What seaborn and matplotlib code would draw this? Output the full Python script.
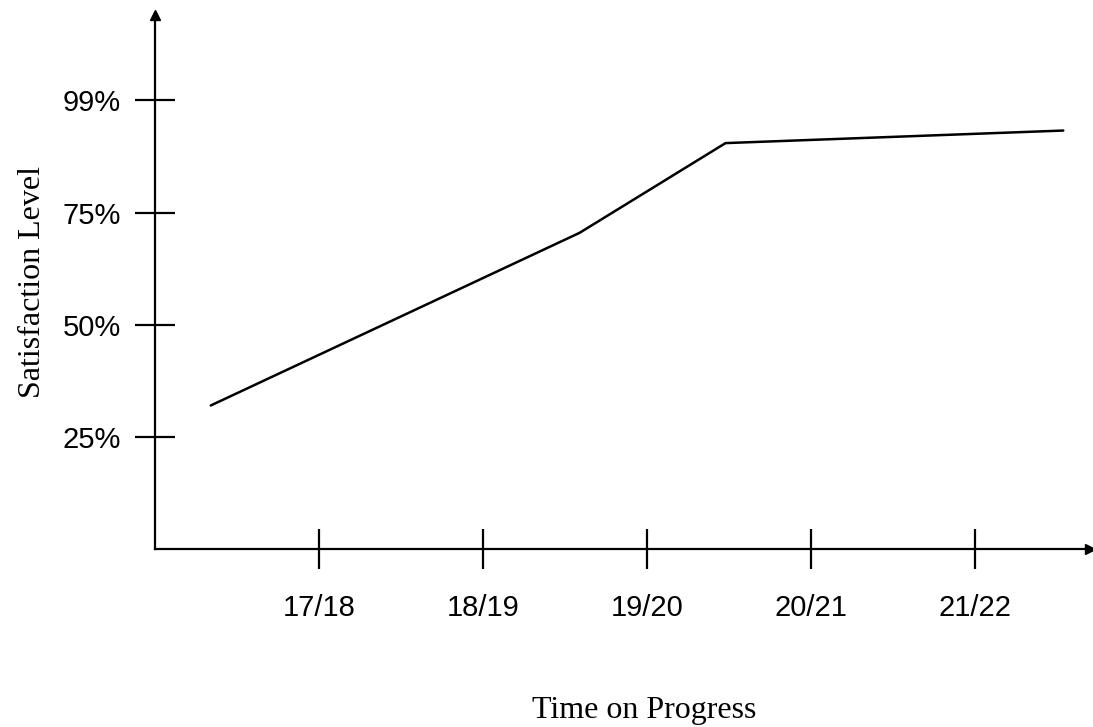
import pandas as pd
import seaborn as sns
import matplotlib
matplotlib.use('Agg')
import matplotlib.pyplot as plt

# Data (x in season units, 17/18 = 1)
x_pos = [0.34, 2.59, 3.48, 5.54]
satisfaction = [32, 70.5, 90.5, 93.3]
season_ticks = [1, 2, 3, 4, 5]
season_labels = ['17/18', '18/19', '19/20', '20/21', '21/22']
level_ticks = [25, 50, 75, 100]
level_labels = ['25%', '50%', '75%', '99%']

data = pd.DataFrame({'time': x_pos, 'level': satisfaction})

sns.set_style('white')
plt.rcParams['font.family'] = ['Liberation Sans', 'DejaVu Sans']

fig = plt.figure(figsize=(10.93, 7.27), dpi=100)
ax = fig.add_axes([0.1418, 0.2448, 0.855, 0.7342])

sns.lineplot(x='time', y='level', data=data, color='black', linewidth=1.8, ax=ax)

ax.set_xlim(0, 5.70)
ax.set_ylim(0, 119)

ax.spines['top'].set_visible(False)
ax.spines['right'].set_visible(False)
for s in ['left', 'bottom']:
    ax.spines[s].set_color('black')
    ax.spines[s].set_linewidth(1.6)

# arrow heads on the axes
ax.plot(1, 0, '>', color='black', markersize=7, transform=ax.transAxes, clip_on=False)
ax.plot(0, 1, '^', color='black', markersize=7, transform=ax.transAxes, clip_on=False)

ax.set_xticks(season_ticks)
ax.set_xticklabels(season_labels)
ax.set_yticks(level_ticks)
ax.set_yticklabels(level_labels)
ax.tick_params(axis='both', direction='inout', length=29, width=1.6, color='black',
               labelsize=21, labelcolor='black', bottom=True, left=True)
ax.tick_params(axis='x', pad=18)
ax.tick_params(axis='y', pad=10)

ax.set_xlabel('Time on Progress', fontfamily='Liberation Serif', fontsize=23,
              labelpad=53, x=0.524, color='black')
ax.set_ylabel('Satisfaction Level', fontfamily='Liberation Serif', fontsize=23,
              labelpad=11, color='black')

fig.savefig('out.png', dpi=100)
